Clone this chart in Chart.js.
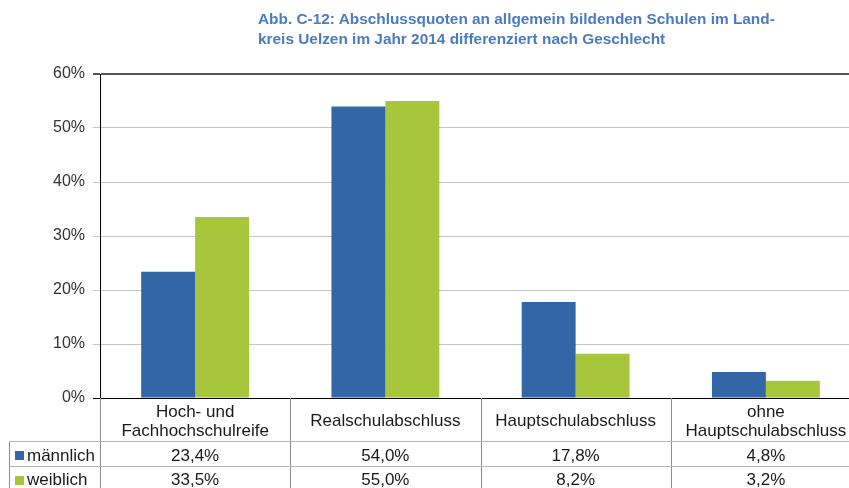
<!DOCTYPE html>
<html>
<head>
<meta charset="utf-8">
<script src="https://cdn.jsdelivr.net/npm/chart.js@4.4.1/dist/chart.umd.min.js"></script>
<style>
    html, body { margin: 0; padding: 0; background: #fff; overflow: hidden; width: 849px; height: 488px; }
    #wrap { position: relative; width: 870px; height: 488px; }
    #title {
        position: absolute; left: 258px; top: 9px;
        font: bold 15.4px "Liberation Sans", Arial, sans-serif;
        color: #4a7cc0; line-height: 20px; white-space: nowrap;
    }
</style>
</head>
<body>
<div id="wrap">
    <canvas id="chart" width="870" height="488"></canvas>
    <div id="title">Abb. C-12: Abschlussquoten an allgemein bildenden Schulen im Land-<br>kreis Uelzen im Jahr 2014 differenziert nach Geschlecht</div>
</div>
<script>
// Data
const categories = [
    ['Hoch- und', 'Fachhochschulreife'],
    ['Realschulabschluss'],
    ['Hauptschulabschluss'],
    ['ohne', 'Hauptschulabschluss']
];
const seriesNames = ['männlich', 'weiblich'];
const maleValues = [23.4, 54.0, 17.8, 4.8];
const femaleValues = [33.5, 55.0, 8.2, 3.2];
const yTicks = [0, 10, 20, 30, 40, 50, 60];

const colors = ['#3366a6', '#a8c63c'];
const font = '"Liberation Sans", Arial, sans-serif';

function fmt(v) {
    return v.toFixed(1).replace('.', ',') + '%';
}

// Data table under the plot
const tablePlugin = {
    id: 'dataTable',
    afterDraw(chart) {
        const ctx = chart.ctx;
        const x = chart.scales.x;
        const area = chart.chartArea;
        const step = x.getPixelForValue(1) - x.getPixelForValue(0);
        const rowTop = area.bottom;
        const row1 = 441, row2 = 466, bottom = chart.height;
        const tableLeft = 9;

        ctx.save();
        // grid lines
        ctx.strokeStyle = '#8c8c8c';
        ctx.lineWidth = 1;
        ctx.beginPath();
        ctx.moveTo(area.left + 0.5, rowTop);
        ctx.lineTo(area.left + 0.5, bottom);
        for (let i = 0; i < categories.length; i++) {
            const bx = Math.round(x.getPixelForValue(i) + step / 2) + 0.5;
            ctx.moveTo(bx, rowTop);
            ctx.lineTo(bx, bottom);
        }
        ctx.moveTo(tableLeft + 0.5, row1);
        ctx.lineTo(tableLeft + 0.5, bottom);
        ctx.stroke();

        ctx.strokeStyle = '#b5b5b5';
        ctx.beginPath();
        [row1, row2].forEach(y => {
            ctx.moveTo(tableLeft, y + 0.5);
            ctx.lineTo(area.right, y + 0.5);
        });
        ctx.stroke();

        // category labels
        ctx.fillStyle = '#1a1a1a';
        ctx.font = '17px ' + font;
        ctx.textAlign = 'center';
        ctx.textBaseline = 'middle';
        categories.forEach((lines, i) => {
            const cx = x.getPixelForValue(i);
            const mid = (rowTop + row1) / 2 + 2;
            lines.forEach((t, j) => {
                const y = mid + (j - (lines.length - 1) / 2) * 19;
                ctx.fillText(t, cx, y);
            });
        });

        // value rows
        const rows = [maleValues, femaleValues];
        const rowMids = [(row1 + row2) / 2 + 2.5, (row2 + bottom) / 2 + 3.5];
        rows.forEach((vals, r) => {
            ctx.textAlign = 'center';
            vals.forEach((v, i) => {
                ctx.fillText(fmt(v), x.getPixelForValue(i), rowMids[r]);
            });
            // legend key
            ctx.fillStyle = colors[r];
            ctx.fillRect(15, Math.round(rowMids[r] - 5), 9, 9);
            ctx.fillStyle = '#1a1a1a';
            ctx.textAlign = 'left';
            ctx.fillText(seriesNames[r], 27, rowMids[r]);
        });
        ctx.restore();
    }
};

new Chart(document.getElementById('chart'), {
    type: 'bar',
    data: {
        labels: categories.map(c => c.join(' ')),
        datasets: [
            { label: seriesNames[0], data: maleValues, backgroundColor: colors[0] },
            { label: seriesNames[1], data: femaleValues, backgroundColor: colors[1] }
        ]
    },
    options: {
        responsive: false,
        animation: false,
        layout: { padding: { top: 74, left: 0, right: 9, bottom: 90 } },
        plugins: {
            legend: { display: false },
            tooltip: { enabled: false }
        },
        datasets: {
            bar: { barPercentage: 1, categoryPercentage: 0.567 }
        },
        scales: {
            x: { display: false },
            y: {
                min: 0,
                max: 60,
                afterFit(scale) { scale.width = 100; },
                afterBuildTicks(scale) { scale.ticks = yTicks.map(v => ({ value: v })); },
                border: { color: '#000', width: 1 },
                grid: {
                    color: ctx => ctx.tick.value === 0 ? '#000' : (ctx.tick.value === 60 ? '#555' : '#c4c4c4'),
                    lineWidth: ctx => ctx.tick.value === 60 ? 2 : 1,
                    tickLength: 7,
                    drawTicks: true
                },
                ticks: {
                    padding: 8,
                    color: '#333',
                    font: { size: 16, family: font },
                    callback: v => v + '%'
                }
            }
        }
    },
    plugins: [tablePlugin]
});
</script>
</body>
</html>
